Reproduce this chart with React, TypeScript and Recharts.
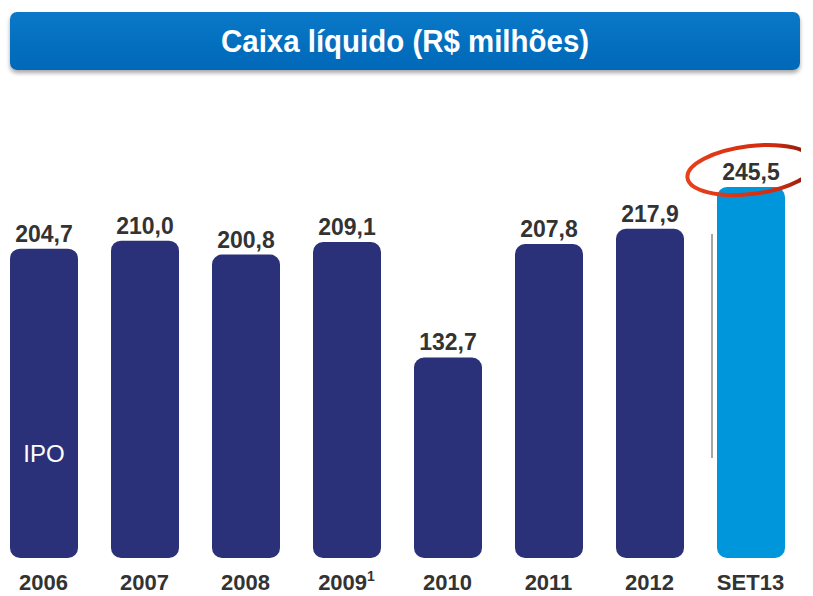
import { BarChart, Bar, XAxis, YAxis, Cell, LabelList } from "recharts";

const periods = ["2006", "2007", "2008", "2009", "2010", "2011", "2012", "SET13"];
const footnotes = ["", "", "", "1", "", "", "", ""];
const caixa = [204.7, 210.0, 200.8, 209.1, 132.7, 207.8, 217.9, 245.5];
const notes = ["IPO", "", "", "", "", "", "", ""];

const data = periods.map((p, i) => ({ period: p, value: caixa[i], note: notes[i], foot: footnotes[i] }));

const NAVY = "#2b3179";
const LIGHT = "#0096dc";
const FONT = "'Liberation Sans', Arial, sans-serif";

const fmt = (v: number) => v.toFixed(1).replace(".", ",");

function YearTick(props: any) {
    const { x, y, payload, index } = props;
    const foot = footnotes[index];
    return (
        <text x={x} y={y + 24} textAnchor="middle" fontFamily={FONT} fontWeight="bold" fontSize={22} fill="#333">
            {payload.value}
            {foot && <tspan dy={-9} fontSize={14}>{foot}</tspan>}
        </text>
    );
}

function ValueLabel(props: any) {
    const { x, y, width, height, value, index } = props;
    const cx = x + width / 2;
    const last = index === caixa.length - 1;
    return (
        <g>
            <text x={cx} y={y - 7} textAnchor="middle" fontFamily={FONT} fontWeight="bold" fontSize={23} fill="#333">
                {fmt(value)}
            </text>
            {notes[index] && (
                <text x={cx} y={y + height - 96} textAnchor="middle" fontFamily={FONT} fontSize={24} fill="#fff">
                    {notes[index]}
                </text>
            )}
            {last && (
                <g>
                    <line x1={x - 5} x2={x - 5} y1={y + 47} y2={y + 271} stroke="#888" strokeWidth={1.5} />
                    <ellipse cx={cx} cy={y - 17} rx={64} ry={24} fill="none" stroke="url(#redring)" strokeWidth={4}
                        transform={`rotate(-7 ${cx} ${y - 17})`} />
                </g>
            )}
        </g>
    );
}

export default function App() {
    return (
        <div style={{ position: "fixed", left: 0, top: 0, width: 813, height: 596, background: "#fff", overflow: "hidden" }}>
            <div style={{
                position: "absolute", left: 10, top: 12, width: 790, height: 58, borderRadius: 7,
                background: "linear-gradient(#0a78c8, #0068b8)", boxShadow: "0 3px 4px rgba(0,0,0,0.35)",
                color: "#fff", fontFamily: FONT, fontWeight: "bold", textAlign: "center", lineHeight: "58px"
            }}>
                <span style={{ display: "inline-block", fontSize: 32, transform: "scaleX(0.92)" }}>
                    Caixa líquido (R$ milhões)
                </span>
            </div>
            <div style={{ position: "absolute", left: -7, top: 0 }}>
                <BarChart width={808} height={596} data={data} margin={{ top: 150, right: 0, bottom: 0, left: 0 }}>
                    <defs>
                        <linearGradient id="redring" x1="0" y1="0" x2="1" y2="0">
                            <stop offset="0%" stopColor="#e8401a" />
                            <stop offset="70%" stopColor="#d02a10" />
                            <stop offset="100%" stopColor="#7a1a08" />
                        </linearGradient>
                    </defs>
                    <XAxis dataKey="period" axisLine={false} tickLine={false} height={38} interval={0} tick={<YearTick />} />
                    <YAxis hide domain={[0, 270]} />
                    <Bar dataKey="value" radius={10} barSize={68} isAnimationActive={false}>
                        {data.map((d, i) => (
                            <Cell key={d.period} fill={i === data.length - 1 ? LIGHT : NAVY} />
                        ))}
                        <LabelList dataKey="value" content={<ValueLabel />} />
                    </Bar>
                </BarChart>
            </div>
        </div>
    );
}
